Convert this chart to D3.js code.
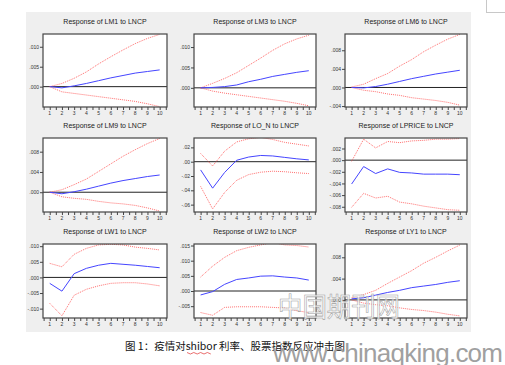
<!DOCTYPE html>
<html><head><meta charset="utf-8">
<script src="https://cdn.jsdelivr.net/npm/d3@7"></script>
<style>body{margin:0;background:#fff;}svg{display:block;}</style>
</head><body>
<svg id="chart" width="505" height="365"></svg>
<script>
const periods = [1,2,3,4,5,6,7,8,9,10];
const titles = ["Response of LM1 to LNCP","Response of LM3 to LNCP","Response of LM6 to LNCP",
  "Response of LM9 to LNCP","Response of LO_N to LNCP","Response of LPRICE to LNCP",
  "Response of LW1 to LNCP","Response of LW2 to LNCP","Response of LY1 to LNCP"];

const lm1Resp  = [0,-0.0003,0.0002,0.0008,0.0015,0.0022,0.0028,0.0034,0.0038,0.0042];
const lm1Upper = [0,0.0008,0.0021,0.0037,0.0057,0.0075,0.0092,0.0108,0.0121,0.0131];
const lm1Lower = [0,-0.0013,-0.0017,-0.0021,-0.0025,-0.0029,-0.0033,-0.0037,-0.0043,-0.0050];

const lm3Resp  = [0,0.0001,0.0003,0.0007,0.0015,0.0021,0.0028,0.0033,0.0038,0.0042];
const lm3Upper = [0,0.0011,0.0023,0.0037,0.0055,0.0073,0.0092,0.0108,0.0120,0.0129];
const lm3Lower = [0,-0.0008,-0.0013,-0.0017,-0.0021,-0.0025,-0.0029,-0.0033,-0.0038,-0.0044];

const lm6Resp  = [0,-0.0001,0.0002,0.0007,0.0013,0.0019,0.0024,0.0029,0.0033,0.0037];
const lm6Upper = [0.0001,0.0007,0.0019,0.0030,0.0046,0.0060,0.0077,0.0091,0.0104,0.0114];
const lm6Lower = [0,-0.0006,-0.0009,-0.0014,-0.0017,-0.0022,-0.0025,-0.0028,-0.0032,-0.0038];

const lm9Resp  = [0,-0.0003,0.0001,0.0006,0.0012,0.0018,0.0023,0.0027,0.0031,0.0034];
const lm9Upper = [0,0.0005,0.0015,0.0026,0.0041,0.0056,0.0071,0.0084,0.0096,0.0106];
const lm9Lower = [0,-0.0009,-0.0012,-0.0014,-0.0018,-0.0021,-0.0023,-0.0026,-0.0031,-0.0037];

const lonResp  = [-0.0115,-0.037,-0.015,0.002,0.0065,0.0087,0.008,0.006,0.004,0.0025];
const lonUpper = [0.0115,-0.006,0.0147,0.0276,0.032,0.034,0.031,0.027,0.0245,0.022];
const lonLower = [-0.0345,-0.066,-0.043,-0.026,-0.018,-0.0147,-0.0133,-0.014,-0.0155,-0.0166];

const lpriceResp  = [-0.0041,-0.0011,-0.0023,-0.0015,-0.0021,-0.0022,-0.0024,-0.0024,-0.0024,-0.0025];
const lpriceUpper = [-0.0002,0.0036,0.0021,0.0032,0.0030,0.0033,0.0034,0.0036,0.0036,0.0037];
const lpriceLower = [-0.0081,-0.0057,-0.0065,-0.0062,-0.0072,-0.0075,-0.0079,-0.0082,-0.0085,-0.0086];

const lw1Resp  = [-0.0019,-0.0044,0.0012,0.0029,0.0039,0.0045,0.0042,0.0039,0.0035,0.0031];
const lw1Upper = [0.0045,0.0034,0.0074,0.0093,0.0104,0.0106,0.0104,0.0097,0.0093,0.0088];
const lw1Lower = [-0.0083,-0.0123,-0.0057,-0.0038,-0.0027,-0.0019,-0.0017,-0.0017,-0.0021,-0.0027];

const lw2Resp  = [-0.0013,-0.0002,0.0022,0.0038,0.0043,0.0049,0.0050,0.0046,0.0043,0.0036];
const lw2Upper = [0.0046,0.0082,0.0111,0.0133,0.0144,0.0152,0.0160,0.0152,0.0150,0.0145];
const lw2Lower = [-0.0071,-0.0080,-0.0054,-0.0052,-0.0052,-0.0052,-0.0054,-0.0056,-0.0065,-0.0071];

const ly1Resp  = [0.0002,0.0004,0.0009,0.0014,0.0018,0.0023,0.0026,0.0029,0.0033,0.0036];
const ly1Upper = [0.0004,0.0010,0.0018,0.0031,0.0043,0.0055,0.0069,0.0080,0.0092,0.0103];
const ly1Lower = [0,-0.0006,-0.0009,-0.0011,-0.0015,-0.0018,-0.0020,-0.0023,-0.0027,-0.0030];

const yTicks = [
  [0,0.005,0.010],[0,0.005,0.010],[-0.004,0,0.004,0.008],
  [0,0.004,0.008],[-0.06,-0.04,-0.02,0,0.02],[-0.008,-0.006,-0.004,-0.002,0,0.002],
  [-0.010,-0.005,0,0.005,0.010],[-0.005,0,0.005,0.010,0.015],[0,0.004,0.008]];
const yDomains = [
  [-0.0051,0.0132],[-0.0047,0.0132],[-0.0042,0.0115],
  [-0.0039,0.0107],[-0.0703,0.0331],[-0.0089,0.0038],
  [-0.0130,0.0107],[-0.0089,0.0155],[-0.0034,0.0105]];
const series = [
  [lm1Resp,lm1Upper,lm1Lower],[lm3Resp,lm3Upper,lm3Lower],[lm6Resp,lm6Upper,lm6Lower],
  [lm9Resp,lm9Upper,lm9Lower],[lonResp,lonUpper,lonLower],[lpriceResp,lpriceUpper,lpriceLower],
  [lw1Resp,lw1Upper,lw1Lower],[lw2Resp,lw2Upper,lw2Lower],[ly1Resp,ly1Upper,ly1Lower]];

const colX = [[43,167],[194,316],[345,467]];
const rowY = [[34,107],[138,212],[244,318]];

const svg = d3.select("#chart");
svg.append("rect").attr("x",486.5).attr("y",-1).attr("width",20).attr("height",13.5)
  .attr("fill","none").attr("stroke","#c8c8c8");
svg.append("rect").attr("x",26).attr("y",12).attr("width",445).attr("height",320).attr("fill","#efefef");

const font = "Liberation Sans, Arial, sans-serif";
titles.forEach((t,i) => {
  const c = i%3, r = Math.floor(i/3);
  const [x0,x1] = colX[c], [y0,y1] = rowY[r];
  const x = d3.scaleLinear().domain([0.45,10.6]).range([x0,x1]);
  const y = d3.scaleLinear().domain(yDomains[i]).range([y1,y0]);
  const g = svg.append("g");
  g.append("rect").attr("x",x0).attr("y",y0).attr("width",x1-x0).attr("height",y1-y0).attr("fill","#fff");
  g.append("text").attr("x",(x0+x1)/2).attr("y",y0-10).attr("text-anchor","middle")
    .attr("font-family",font).attr("font-size",7).attr("fill","#222").text(t);
  const clipId = "clip"+i;
  g.append("clipPath").attr("id",clipId).append("rect").attr("x",x0).attr("y",y0).attr("width",x1-x0).attr("height",y1-y0);
  const inner = g.append("g").attr("clip-path",`url(#${clipId})`);
  inner.append("line").attr("x1",x0).attr("x2",x1).attr("y1",y(0)).attr("y2",y(0)).attr("stroke","#222").attr("stroke-width",1);
  const line = d3.line().x((d,k)=>x(periods[k])).y(d=>y(d));
  const [resp,up,lo] = series[i];
  [up,lo].forEach(s => inner.append("path").attr("d",line(s)).attr("fill","none")
    .attr("stroke","#ff4a4a").attr("stroke-width",1).attr("stroke-dasharray","1,1").attr("opacity",0.8));
  inner.append("path").attr("d",line(resp)).attr("fill","none").attr("stroke","#4545ff").attr("stroke-width",1);
  g.append("rect").attr("x",x0).attr("y",y0).attr("width",x1-x0).attr("height",y1-y0)
    .attr("fill","none").attr("stroke","#444").attr("stroke-width",1.2);
  const xAxis = d3.axisBottom(x).tickValues(d3.range(0.5,10.6,0.5)).tickSize(3).tickFormat("");
  const xg = g.append("g").attr("transform",`translate(0,${y1})`).call(xAxis);
  xg.select(".domain").remove();
  xg.selectAll("line").attr("stroke","#444");
  g.selectAll(".xl").data(periods).enter().append("text").attr("x",d=>x(d)).attr("y",y1+8)
    .attr("text-anchor","middle").attr("font-family",font).attr("font-size",5).attr("fill","#333").text(d=>d);
  const yAxis = d3.axisLeft(y).tickValues(yTicks[i]).tickSize(3).tickPadding(1)
    .tickFormat(v => (v<0?"-":"") + Math.abs(v).toFixed(i===4?2:3).replace(/^0/,""));
  const yg = g.append("g").attr("transform",`translate(${x0},0)`).call(yAxis);
  yg.select(".domain").remove();
  yg.selectAll("line").attr("stroke","#444");
  yg.selectAll("text").attr("font-family",font).attr("font-size",5).attr("fill","#333");
});

// caption
svg.append("text").attr("x",125).attr("y",350).attr("font-family","Noto Sans CJK SC, sans-serif")
  .attr("font-size",10.5).attr("fill","#111").attr("textLength",220).attr("lengthAdjust","spacingAndGlyphs")
  .text("图 1：疫情对shibor 利率、股票指数反应冲击图");
svg.append("path").attr("d",d3.range(0,8).map(k=>`${k===0?"M":"L"}${187+k*3.4},${k%2?354:352.5}`).join(""))
  .attr("fill","none").attr("stroke","#e03030").attr("stroke-width",0.7);

// watermark
svg.append("text").attr("x",278).attr("y",317).attr("font-family","Noto Sans CJK SC, sans-serif")
  .attr("font-size",27).attr("textLength",122).attr("lengthAdjust","spacingAndGlyphs")
  .attr("fill","#ffffff").attr("fill-opacity",0.75).attr("stroke","#a0a0a0").attr("stroke-width",0.6).text("中国期刊网");
svg.append("text").attr("x",273).attr("y",362).attr("font-family",font)
  .attr("font-size",26).attr("textLength",230).attr("lengthAdjust","spacing")
  .attr("fill","#a0a0a0").text("www.chinaqking.com");
</script>
</body></html>
